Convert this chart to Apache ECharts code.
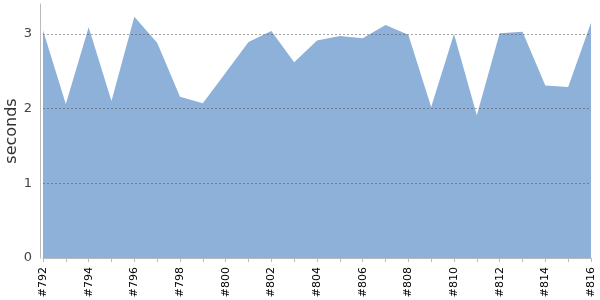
<!DOCTYPE html>
<html>
<head>
<meta charset="utf-8">
<script src="https://cdn.jsdelivr.net/npm/echarts@6/dist/echarts.min.js"></script>
<style>
  html, body { margin: 0; padding: 0; background: #fff; }
  #main { width: 600px; height: 300px; }
</style>
</head>
<body>
<div id="main"></div>
<script>
var builds = ['#792', '#793', '#794', '#795', '#796', '#797', '#798', '#799', '#800', '#801',
  '#802', '#803', '#804', '#805', '#806', '#807', '#808', '#809', '#810', '#811',
  '#812', '#813', '#814', '#815', '#816'];
var durations = [3.05, 2.06, 3.09, 2.10, 3.23, 2.88, 2.16, 2.07, 2.48, 2.89,
  3.04, 2.62, 2.91, 2.97, 2.94, 3.12, 2.99, 2.02, 3.00, 1.91,
  3.01, 3.03, 2.31, 2.29, 3.15];
var yTicks = [0, 1, 2, 3];

var myChart = echarts.init(document.getElementById('main'));
var option = {
  animation: false,
  grid: {
    left: 43,
    right: 9,
    top: 4,
    bottom: 42,
    containLabel: false,
    outerBoundsMode: 'none'
  },
  xAxis: {
    type: 'category',
    boundaryGap: false,
    data: builds,
    offset: 4,
    axisLine: { lineStyle: { color: '#bbb' } },
    axisTick: { interval: 0, length: 4, lineStyle: { color: '#bbb' } },
    axisLabel: {
      interval: 1,
      rotate: 90,
      color: '#000',
      fontSize: 11,
      fontFamily: 'DejaVu Sans',
      margin: 5
    },
    splitLine: { show: false }
  },
  yAxis: {
    type: 'value',
    min: 0,
    max: 3.4,
    interval: 1,
    offset: 3,
    z: 5,
    name: 'seconds',
    nameLocation: 'middle',
    nameGap: 20,
    nameMoveOverlap: false,
    nameTextStyle: { color: '#333', fontSize: 16, fontFamily: 'DejaVu Sans' },
    axisLine: { show: true, lineStyle: { color: '#bbb' } },
    axisTick: { show: false },
    axisLabel: {
      color: '#444',
      fontSize: 13,
      fontFamily: 'DejaVu Sans',
      margin: 8,
      showMaxLabel: false,
      formatter: function (v) { return yTicks.indexOf(v) >= 0 ? String(v) : ''; }
    },
    splitLine: {
      show: true,
      showMinLine: false,
      showMaxLine: false,
      lineStyle: { color: '#555', opacity: 0.55, type: [2, 2], width: 1 }
    }
  },
  series: [{
    type: 'line',
    data: durations,
    symbol: 'none',
    lineStyle: { width: 0 },
    areaStyle: { color: '#8EB1DA', opacity: 1 }
  }]
};
myChart.setOption(option);
</script>
</body>
</html>
